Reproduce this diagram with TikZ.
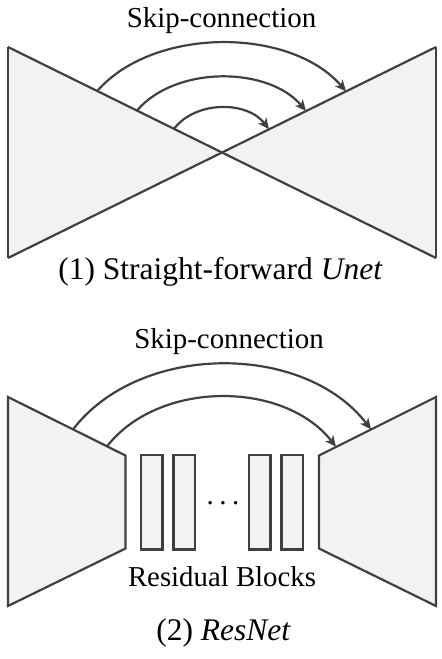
\documentclass[tikz,border=0pt]{standalone}
\usepackage{fontspec}
\setmainfont{Liberation Serif}
\usetikzlibrary{arrows.meta,calc}
\definecolor{edgegray}{HTML}{404040}
\definecolor{fillgray}{HTML}{F2F2F2}
\begin{document}
\begin{tikzpicture}[x=1pt,y=-1pt,
  shapeline/.style={draw=edgegray,line width=2.2pt,fill=fillgray,line join=miter},
  plainline/.style={draw=edgegray,line width=2.2pt},
  skiparrow/.style={draw=edgegray,line width=2.2pt,-{Stealth[length=11pt,width=10pt,inset=3pt]}},
  lbltext/.style={anchor=base,inner sep=0pt,font=\fontsize{28.9}{34}\selectfont},
  captiontext/.style={anchor=base,inner sep=0pt,font=\fontsize{31.5}{38}\selectfont}]
\useasboundingbox (0,0) rectangle (442,659);
% ---------- (1) Unet ----------
\coordinate (tl) at (8,47);
\coordinate (bl) at (8,258);
\coordinate (tr) at (436,47);
\coordinate (br) at (436,258);
\coordinate (mid) at (222,152.5);
\fill[fillgray] (tl) -- (mid) -- (bl) -- cycle;
\fill[fillgray] (tr) -- (mid) -- (br) -- cycle;
\draw[plainline] (tl) -- (br);
\draw[plainline] (bl) -- (tr);
\draw[plainline] (tl) -- (bl);
\draw[plainline] (tr) -- (br);
\coordinate (a1s) at (97,91.3);
\coordinate (a1e) at (346,91.3);
\coordinate (a2s) at (137,110.6);
\coordinate (a2e) at (306,111.0);
\coordinate (a3s) at (174,128.8);
\coordinate (a3e) at (269,129.2);
\draw[skiparrow] (a1s) .. controls ($(a1s)+(56,-64.7)$) and ($(a1e)+(-56,-64.7)$) .. (a1e);
\draw[skiparrow] (a2s) .. controls ($(a2s)+(38,-45)$) and ($(a2e)+(-38,-45)$) .. (a2e);
\draw[skiparrow] (a3s) .. controls ($(a3s)+(22,-28.4)$) and ($(a3e)+(-22,-28.4)$) .. (a3e);
\node[lbltext] (skip1) at (221.5,27.3) {Skip-connection};
\node[captiontext] (cap1) at (220.5,279.3) {(1) Straight-forward \textit{Unet}};
% ---------- (2) ResNet ----------
\draw[shapeline] (8,397) coordinate (ltl) -- (125.5,455.5) coordinate (ltr)
  -- (125.5,548.5) coordinate (lbr) -- (8,606) coordinate (lbl) -- cycle;
\draw[shapeline] (436,397) coordinate (rtr) -- (319,455.5) coordinate (rtl)
  -- (319,548.5) coordinate (rbl) -- (436,606) coordinate (rbr) -- cycle;
\draw[shapeline] (141,455) rectangle (162.5,549.5);
\draw[shapeline] (173.5,455) rectangle (195,549.5);
\draw[shapeline] (249,455) rectangle (270.5,549.5);
\draw[shapeline] (281.5,455) rectangle (303,549.5);
\node[lbltext] (dots) at (223,504) {.\hspace{5.5pt}.\hspace{5.5pt}.};
\coordinate (b1s) at (73,429.4);
\coordinate (b1e) at (371,429.4);
\coordinate (b2s) at (107,446.3);
\coordinate (b2e) at (336,446.8);
\draw[skiparrow] (b1s) .. controls ($(b1s)+(67,-87.2)$) and ($(b1e)+(-67,-87.2)$) .. (b1e);
\draw[skiparrow] (b2s) .. controls ($(b2s)+(52,-66.4)$) and ($(b2e)+(-52,-66.4)$) .. (b2e);
\node[lbltext] (skip2) at (229,348.3) {Skip-connection};
\node[lbltext,font=\fontsize{28.8}{34}\selectfont] (res) at (222,586.7) {Residual Blocks};
\node[captiontext] (cap2) at (223.5,640) {(2) \textit{ResNet}};
\end{tikzpicture}
\end{document}
